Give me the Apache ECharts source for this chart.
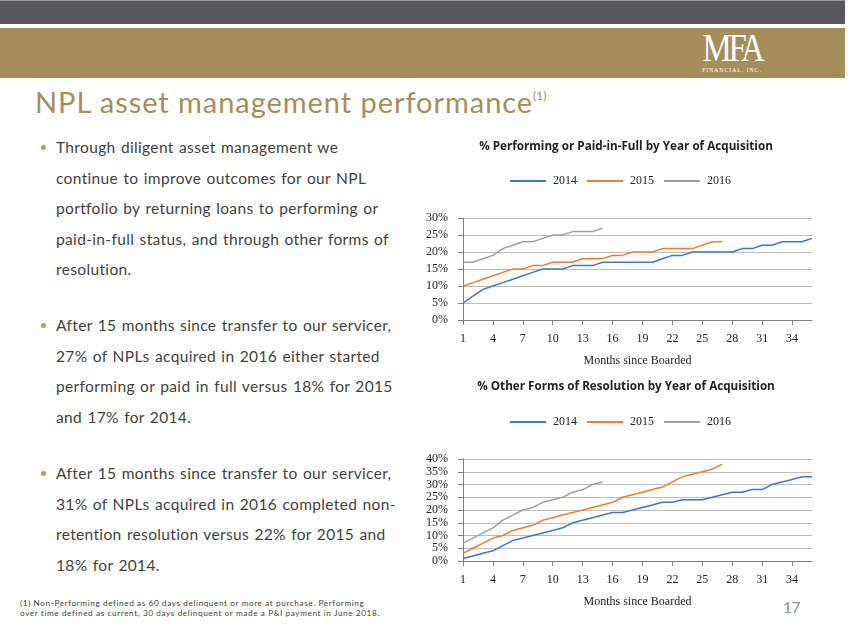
<!DOCTYPE html>
<html><head><meta charset="utf-8">
<script src="https://cdn.jsdelivr.net/npm/echarts@6/dist/echarts.min.js"></script>
<style>
html,body{margin:0;padding:0;background:#fff;}
#page{position:relative;width:848px;height:635px;overflow:hidden;font-family:Lato,"Open Sans",sans-serif;}
.band1{position:absolute;left:0;top:0;width:845px;height:24px;background:#55585d;border-top:1px solid #9a9a9a;box-sizing:border-box;}
.band2{position:absolute;left:0;top:28px;width:845px;height:50px;background:#a68e5b;}
.logo{position:absolute;left:689px;top:29px;width:86px;text-align:center;color:#fff;font-family:"Liberation Serif","DejaVu Serif",serif;}
.logo .m{font-size:40px;line-height:38px;letter-spacing:-4px;transform:scaleX(0.82);}
.logo .s{font-size:5.5px;letter-spacing:1.1px;margin-top:0px;}
.title{position:absolute;left:35px;top:84px;font-size:29px;color:#a68e5b;white-space:nowrap;letter-spacing:0.95px;}
.title sup{font-size:12px;vertical-align:top;position:relative;top:4px;letter-spacing:0;}
.txt{position:absolute;left:56px;font-size:15.5px;line-height:30.5px;color:#3f3f3f;letter-spacing:0.35px;word-spacing:1px;white-space:nowrap;}
.dot{position:absolute;left:41px;width:5px;height:5px;border-radius:50%;background:#b49b6a;}
.foot{position:absolute;left:20px;top:599px;font-size:8.2px;line-height:9.5px;color:#404040;white-space:nowrap;letter-spacing:0.6px;}
.pno{position:absolute;left:783px;top:598px;font-size:15px;color:#8c8c8c;}
#chart{position:absolute;left:0;top:0;width:848px;height:635px;}
</style></head>
<body><div id="page">
<div class="band1"></div>
<div class="band2"></div>
<div class="logo"><div class="m">MFA</div><div class="s">FINANCIAL, INC.</div></div>
<div class="title">NPL asset management performance<sup>(1)</sup></div>
<div class="dot" style="top:145px"></div>
<div class="txt" style="top:132px">Through diligent asset management we<br>continue to improve outcomes for our NPL<br>portfolio by returning loans to performing or<br>paid-in-full status, and through other forms of<br>resolution.</div>
<div class="dot" style="top:323px"></div>
<div class="txt" style="top:310px">After 15 months since transfer to our servicer,<br>27% of NPLs acquired in 2016 either started<br>performing or paid in full versus 18% for 2015<br>and 17% for 2014.</div>
<div class="dot" style="top:471px"></div>
<div class="txt" style="top:458px">After 15 months since transfer to our servicer,<br>31% of NPLs acquired in 2016 completed non-<br>retention resolution versus 22% for 2015 and<br>18% for 2014.</div>
<div class="foot">(1) Non-Performing  defined as 60  days delinquent or more at purchase.  Performing<br>over time defined as current, 30 days delinquent or made a P&amp;I payment  in June 2018.</div>
<div class="pno">17</div>
<div id="chart"></div>
</div>
<script>
const months = Array.from({length:36},(_,i)=>String(i+1));
const seriesNames = ['2014','2015','2016'];
const colors = ['#3d78c4','#ed7d31','#a0a0a0'];

const chart1Title = '% Performing or Paid-in-Full by Year of Acquisition';
const chart2Title = '% Other Forms of Resolution by Year of Acquisition';
const xAxisName = 'Months since Boarded';

const perf2014 = [5,7,9,10,11,12,13,14,15,15,15,16,16,16,17,17,17,17,17,17,18,19,19,20,20,20,20,20,21,21,22,22,23,23,23,24];
const perf2015 = [10,11,12,13,14,15,15,16,16,17,17,17,18,18,18,19,19,20,20,20,21,21,21,21,22,23,23];
const perf2016 = [17,17,18,19,21,22,23,23,24,25,25,26,26,26,27];

const res2014 = [1,2,3,4,6,8,9,10,11,12,13,15,16,17,18,19,19,20,21,22,23,23,24,24,24,25,26,27,27,28,28,30,31,32,33,33];
const res2015 = [3,5,7,9,10,12,13,14,16,17,18,19,20,21,22,23,25,26,27,28,29,31,33,34,35,36,38];
const res2016 = [7,9,11,13,16,18,20,21,23,24,25,27,28,30,31];

const c = echarts.init(document.getElementById('chart'), null, {renderer:'canvas'});
const serif = '"Liberation Serif","Times New Roman",serif';
function xAx(gi){
  return {type:'category',gridIndex:gi,data:months,boundaryGap:false,
    axisLine:{lineStyle:{color:'#7f7f7f',width:1}},
    axisTick:{interval:2,length:5,lineStyle:{color:'#7f7f7f'}},
    axisLabel:{interval:2,margin:13,fontFamily:serif,fontSize:12,color:'#222'},
    name:xAxisName,nameLocation:'middle',nameGap:35,
    nameTextStyle:{fontFamily:serif,fontSize:12,color:'#222'}};
}
function yAx(gi,max){
  return {type:'value',gridIndex:gi,min:0,max:max,interval:5,
    axisLine:{show:true,lineStyle:{color:'#7f7f7f'}},
    axisTick:{show:true,length:5,lineStyle:{color:'#7f7f7f'}},
    axisLabel:{formatter:'{value}%',margin:15,fontFamily:serif,fontSize:12,color:'#222'},
    splitLine:{lineStyle:{color:'#bdbdbd',width:1.2}}};
}
function ser(name,data,gi,ci){
  return {name:name,type:'line',xAxisIndex:gi,yAxisIndex:gi,data:data,symbol:'none',
    lineStyle:{color:colors[ci],width:1.5},itemStyle:{color:colors[ci]},z:3-ci+2};
}
function legend(top){
  return {top:top,left:505,itemWidth:36,itemHeight:2,itemGap:10,icon:'rect',data:seriesNames,
    textStyle:{fontFamily:serif,fontSize:12,color:'#222',padding:[0,0,0,2]}};
}
const titleStyle = {fontFamily:'"Open Sans",sans-serif',fontSize:11.7,fontWeight:'bold',color:'#222'};
c.setOption({
  animation:false,
  color:colors,
  title:[
    {text:chart1Title,left:621,top:136,textAlign:'center',textStyle:titleStyle},
    {text:chart2Title,left:621,top:376,textAlign:'center',textStyle:titleStyle}
  ],
  legend:[legend(170),legend(411)],
  grid:[
    {left:463,top:218,width:349,height:102},
    {left:463,top:459,width:349,height:102}
  ],
  xAxis:[xAx(0),xAx(1)],
  yAxis:[yAx(0,30),yAx(1,40)],
  series:[
    ser('2014',perf2014,0,0),ser('2015',perf2015,0,1),ser('2016',perf2016,0,2),
    ser('2014',res2014,1,0),ser('2015',res2015,1,1),ser('2016',res2016,1,2)
  ]
});
</script>
</body></html>
